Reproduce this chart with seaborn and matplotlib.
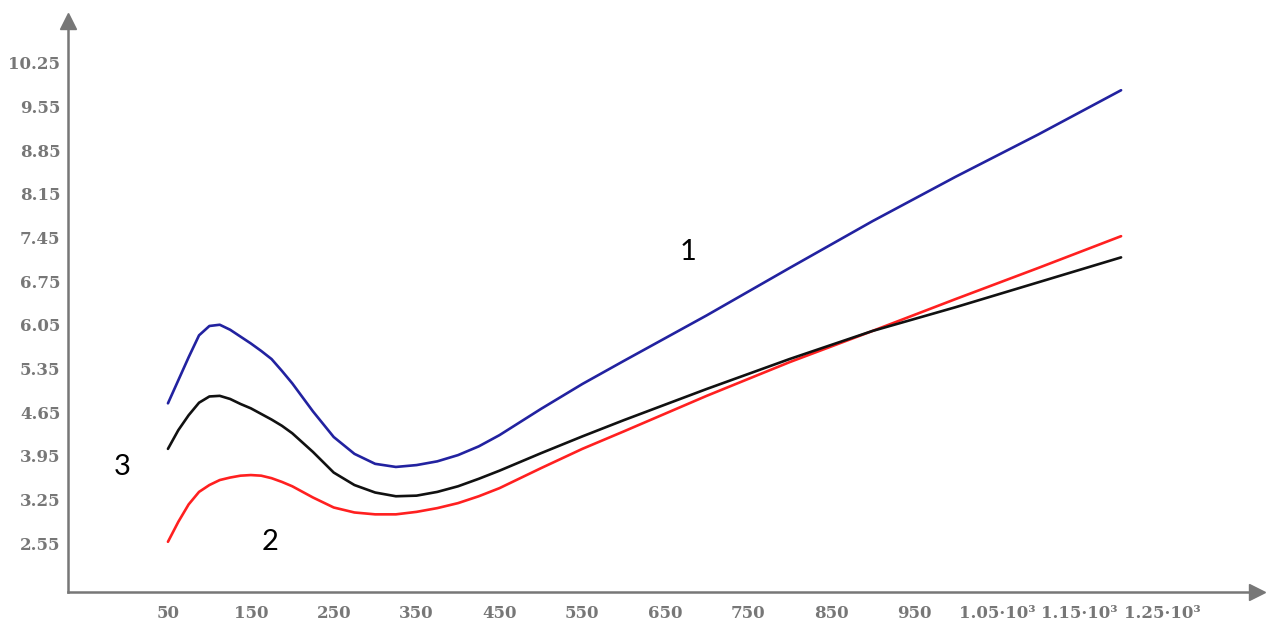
import matplotlib
matplotlib.use("Agg")
import matplotlib.pyplot as plt
import numpy as np
import pandas as pd
import seaborn as sns

# values
x_vals = [50, 62.5, 75, 87.5, 100, 112.5, 125, 137.5, 150, 162.5, 175, 187.5,
          200, 225, 250, 275, 300, 325, 350, 375, 400, 425, 450, 500, 550,
          600, 700, 800, 900, 1000, 1100, 1200]
curve_1 = [4.79, 5.16, 5.53, 5.88, 6.03, 6.05, 5.97, 5.86, 5.75, 5.63, 5.50,
           5.31, 5.11, 4.66, 4.25, 3.98, 3.82, 3.77, 3.80, 3.86, 3.96, 4.10,
           4.28, 4.70, 5.10, 5.47, 6.20, 6.96, 7.71, 8.42, 9.10, 9.81]
curve_2 = [2.57, 2.89, 3.17, 3.37, 3.48, 3.56, 3.60, 3.63, 3.64, 3.63, 3.59,
           3.53, 3.46, 3.28, 3.12, 3.04, 3.01, 3.01, 3.05, 3.11, 3.19, 3.30,
           3.43, 3.75, 4.06, 4.34, 4.91, 5.45, 5.95, 6.46, 6.96, 7.47]
curve_3 = [4.06, 4.36, 4.60, 4.80, 4.90, 4.91, 4.86, 4.78, 4.71, 4.62, 4.53,
           4.43, 4.31, 4.01, 3.68, 3.48, 3.36, 3.30, 3.31, 3.37, 3.46, 3.58,
           3.71, 3.99, 4.26, 4.52, 5.02, 5.50, 5.95, 6.33, 6.73, 7.13]

x_ticks = [50, 150, 250, 350, 450, 550, 650, 750, 850, 950, 1050, 1150, 1250]
x_tick_labels = ["50", "150", "250", "350", "450", "550", "650", "750",
                 "850", "950", "1.05·10³", "1.15·10³", "1.25·10³"]
y_ticks = [2.55, 3.25, 3.95, 4.65, 5.35, 6.05, 6.75, 7.45, 8.15, 8.85, 9.55,
           10.25]

df = pd.DataFrame({
    "x": x_vals * 3,
    "y": curve_1 + curve_2 + curve_3,
    "curve": ["1"] * len(x_vals) + ["2"] * len(x_vals) + ["3"] * len(x_vals),
})

sns.set_style("white")
grey = "#777777"

fig = plt.figure(figsize=(12.75, 6.34), dpi=100)
ax = fig.add_axes([68 / 1275, 1 - 592 / 634, (1257 - 68) / 1275, (592 - 21) / 634])

sns.lineplot(
    data=df, x="x", y="y", hue="curve", estimator=None, ax=ax,
    palette={"1": "#2222a0", "2": "#ff2020", "3": "#111111"},
    linewidth=1.9, legend=False,
)

ax.set_xlim(-70.6, 1364)
ax.set_ylim(1.765, 10.92)
ax.set_xlabel("")
ax.set_ylabel("")

ax.set_xticks(x_ticks)
ax.set_xticklabels(x_tick_labels)
ax.set_yticks(y_ticks)
ax.set_yticklabels([f"{v:.2f}" for v in y_ticks])

for lab in ax.get_xticklabels() + ax.get_yticklabels():
    lab.set_family("DejaVu Serif")
    lab.set_fontweight("bold")
    lab.set_fontsize(12)
    lab.set_color(grey)

ax.tick_params(axis="both", direction="inout", length=7, width=1.2,
               color=grey, pad=2)
ax.tick_params(axis="x", pad=6)

sns.despine(ax=ax)
for side in ["left", "bottom"]:
    ax.spines[side].set_color(grey)
    ax.spines[side].set_linewidth(1.8)

# arrow heads on the axes
ax.plot(1, 0, ">", color=grey, markersize=11, transform=ax.transAxes,
        clip_on=False)
ax.plot(0, 1, "^", color=grey, markersize=11, transform=ax.transAxes,
        clip_on=False)

# curve numbers
ax.text(677, 7.21, "1", fontsize=21, family="Lato", color="black",
        ha="center", va="center")
ax.text(173, 2.57, "2", fontsize=21, family="Lato", color="black",
        ha="center", va="center")
ax.text(-5.5, 3.77, "3", fontsize=21, family="Lato", color="black",
        ha="center", va="center")

fig.savefig("out.png", dpi=100)
